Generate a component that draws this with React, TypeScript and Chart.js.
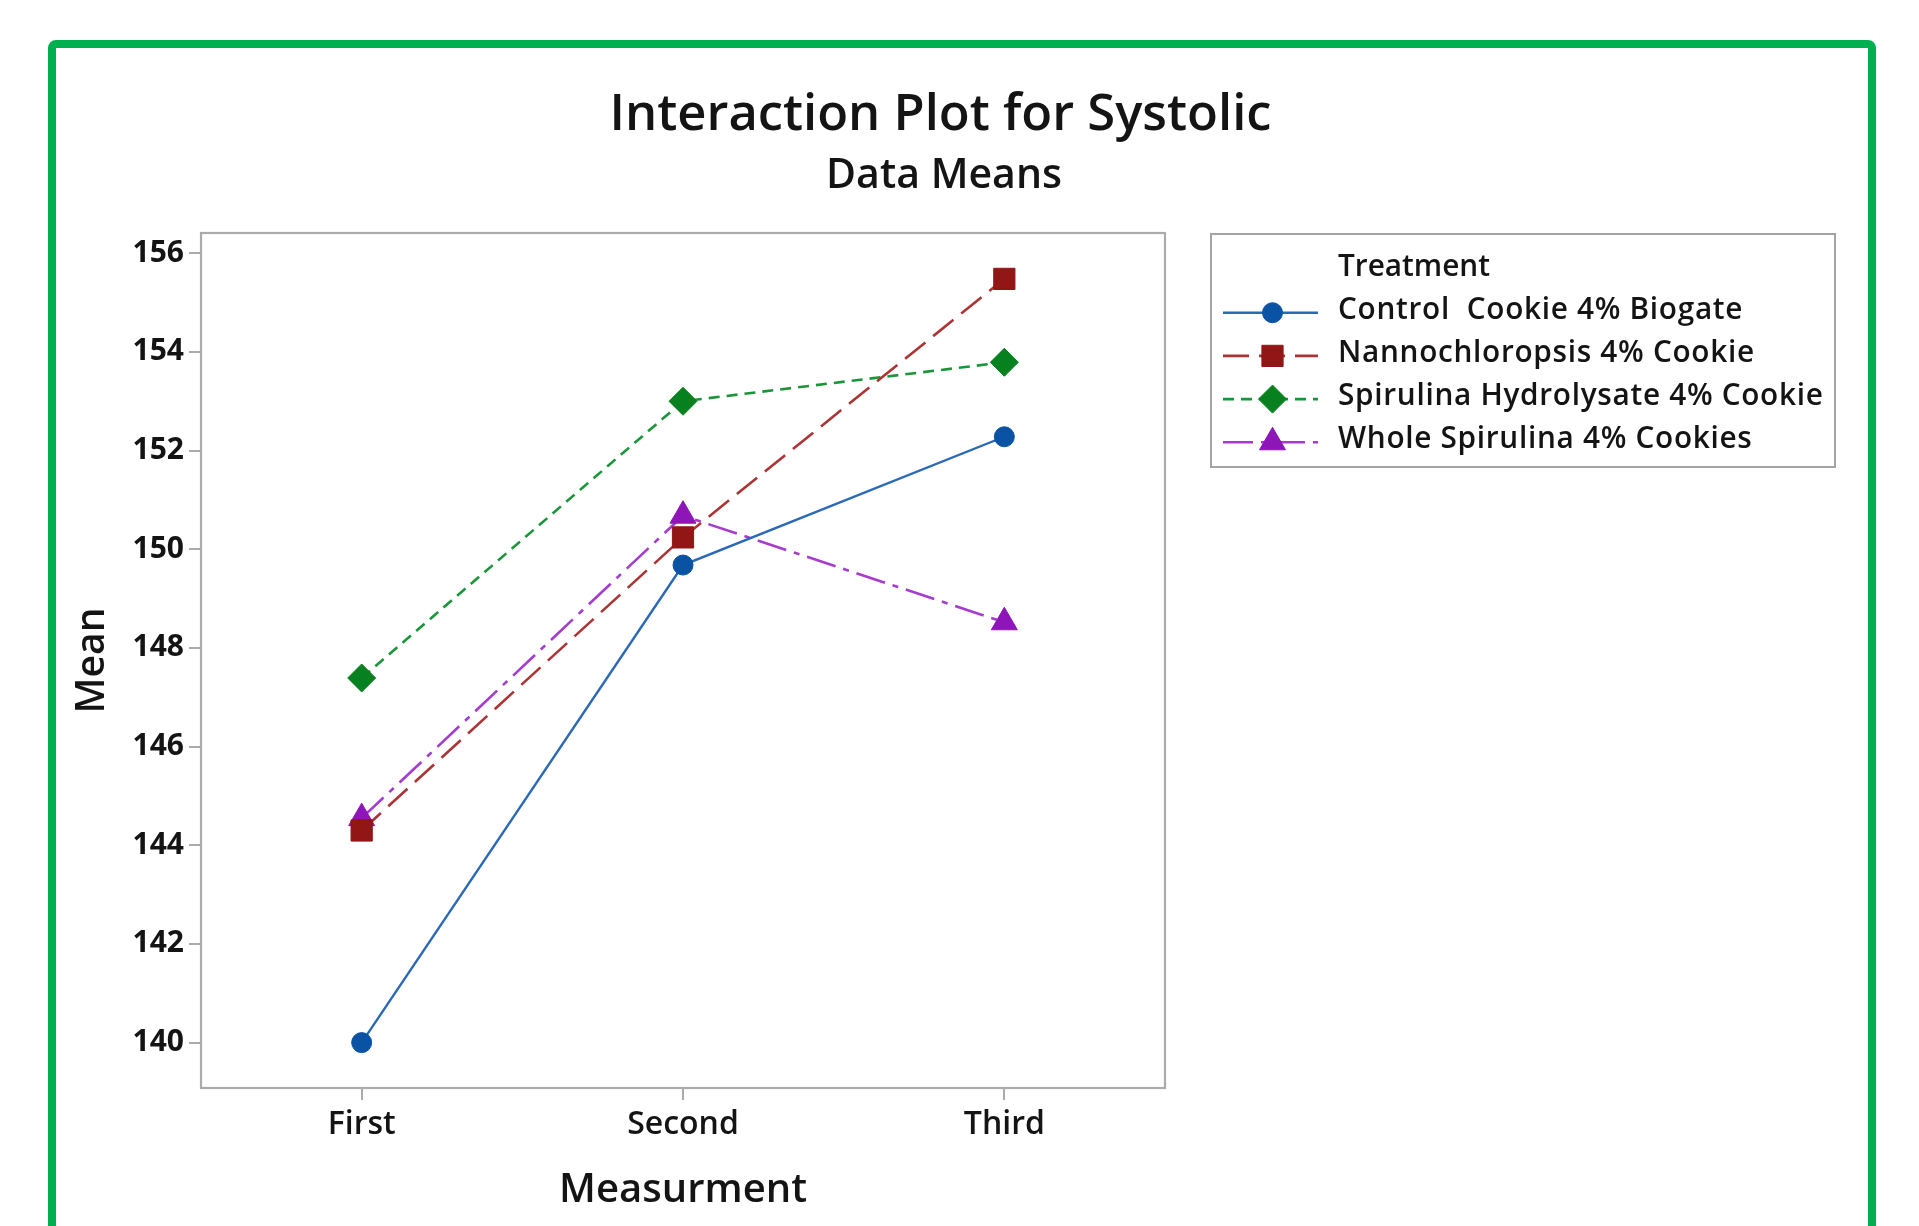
import { useEffect, useRef } from 'react';
import { Chart, registerables } from 'chart.js';
import { drawPoint } from 'chart.js/helpers';

Chart.register(...registerables);

const categories = ['First', 'Second', 'Third'];
const seriesNames = [
  'Control  Cookie 4% Biogate',
  'Nannochloropsis 4% Cookie',
  'Spirulina Hydrolysate 4% Cookie',
  'Whole Spirulina 4% Cookies',
];
const controlCookie = [140.0, 149.68, 152.28];
const nannochloropsis = [144.3, 150.24, 155.48];
const spirulinaHydrolysate = [147.39, 153.0, 153.79];
const wholeSpirulina = [144.55, 150.68, 148.52];
const yTickValues = [140, 142, 144, 146, 148, 150, 152, 154, 156];

const chartTitle = 'Interaction Plot for Systolic';
const chartSubtitle = 'Data Means';
const xAxisTitle = 'Measurment';
const yAxisTitle = 'Mean';
const legendTitle = 'Treatment';

const FONT = '"Open Sans", "Noto Sans", "DejaVu Sans", sans-serif';
const TEXT = '#141414';
const AXIS_GRAY = '#ababab';

function fitText(ctx: CanvasRenderingContext2D, text: string, weight: string, size: number, target: number) {
  ctx.font = `${weight} ${size}px ${FONT}`;
  const w = ctx.measureText(text).width;
  const s = size * (target / w);
  ctx.font = `${weight} ${s.toFixed(2)}px ${FONT}`;
}

const decorPlugin = {
  id: 'decor',
  beforeDraw(chart: any) {
    const ctx = chart.ctx as CanvasRenderingContext2D;
    ctx.save();
    ctx.fillStyle = '#ffffff';
    ctx.fillRect(0, 0, chart.width, chart.height);
    // green outer border (open at the bottom)
    const r = 4;
    ctx.strokeStyle = '#00B050';
    ctx.lineWidth = 8;
    ctx.beginPath();
    ctx.moveTo(52, chart.height + 20);
    ctx.lineTo(52, 44 + r);
    ctx.arcTo(52, 44, 52 + r, 44, r);
    ctx.lineTo(1872 - r, 44);
    ctx.arcTo(1872, 44, 1872, 44 + r, r);
    ctx.lineTo(1872, chart.height + 20);
    ctx.stroke();

    // titles
    ctx.fillStyle = TEXT;
    ctx.textAlign = 'center';
    ctx.textBaseline = 'alphabetic';
    fitText(ctx, chartTitle, '600', 53, 662);
    ctx.fillText(chartTitle, 940.5, 130);
    fitText(ctx, chartSubtitle, '600', 42, 236);
    ctx.fillText(chartSubtitle, 944, 188);

    // axis titles
    const area = chart.chartArea;
    fitText(ctx, xAxisTitle, '600', 42, 248);
    ctx.fillText(xAxisTitle, (area.left + area.right) / 2, 1201.5);
    ctx.save();
    ctx.translate(104, (area.top + area.bottom) / 2);
    ctx.rotate(-Math.PI / 2);
    fitText(ctx, yAxisTitle, '600', 42, 106);
    ctx.fillText(yAxisTitle, 0, 0);
    ctx.restore();

    // legend box
    ctx.strokeStyle = '#a4a4a4';
    ctx.lineWidth = 2;
    ctx.strokeRect(1211, 234, 624, 233);
    const tx = 1338;
    const base0 = 275.5;
    const step = 43.2;
    ctx.textAlign = 'left';
    ctx.fillStyle = TEXT;
    fitText(ctx, legendTitle, '600', 31, 152);
    ctx.fillText(legendTitle, tx, base0);
    const legendFont = ctx.font;
    chart.data.datasets.forEach((ds: any, i: number) => {
      const by = base0 + step * (i + 1);
      const cy = by - 6;
      ctx.save();
      ctx.strokeStyle = ds.borderColor;
      ctx.lineWidth = ds.borderWidth;
      ctx.setLineDash(ds.borderDash || []);
      ctx.beginPath();
      ctx.moveTo(1223, cy);
      ctx.lineTo(1318, cy);
      ctx.stroke();
      ctx.setLineDash([]);
      ctx.fillStyle = ds.pointBackgroundColor;
      ctx.strokeStyle = ds.pointBorderColor;
      ctx.lineWidth = 1;
      drawPoint(ctx, { pointStyle: ds.pointStyle, rotation: 0, radius: ds.pointRadius, borderWidth: 1 } as any, 1272.5, cy);
      ctx.restore();
      ctx.save();
      ctx.font = legendFont;
      (ctx as any).letterSpacing = '0.7px';
      ctx.fillStyle = TEXT;
      ctx.fillText(ds.label, tx, by);
      ctx.restore();
    });
    ctx.restore();
  },
  beforeDatasetsDraw(chart: any) {
    const ctx = chart.ctx as CanvasRenderingContext2D;
    const a = chart.chartArea;
    ctx.save();
    ctx.strokeStyle = AXIS_GRAY;
    ctx.lineWidth = 2.2;
    ctx.strokeRect(a.left, a.top, a.right - a.left, a.bottom - a.top);
    ctx.restore();
  },
};

export default function App() {
  const ref = useRef<HTMLCanvasElement | null>(null);
  useEffect(() => {
    if (!ref.current) return;
    const gridOpts = {
      display: true,
      drawOnChartArea: false,
      drawTicks: true,
      tickLength: 12,
      tickWidth: 2,
      lineWidth: 2,
      tickColor: AXIS_GRAY,
      color: AXIS_GRAY,
    };
    const chart = new Chart(ref.current, {
      type: 'line',
      data: {
        labels: categories,
        datasets: [
          {
            label: seriesNames[0],
            data: controlCookie,
            borderColor: '#2a68b8',
            borderWidth: 2.4,
            borderDash: [],
            pointStyle: 'circle',
            pointRadius: 10,
            pointBackgroundColor: '#0a52a3',
            pointBorderColor: '#0a52a3',
            pointBorderWidth: 1,
          },
          {
            label: seriesNames[1],
            data: nannochloropsis,
            borderColor: '#ad3434',
            borderWidth: 2.6,
            borderDash: [26, 10],
            pointStyle: 'rect',
            pointRadius: 15,
            pointBackgroundColor: '#921616',
            pointBorderColor: '#921616',
            pointBorderWidth: 1,
          },
          {
            label: seriesNames[2],
            data: spirulinaHydrolysate,
            borderColor: '#1a963a',
            borderWidth: 2.6,
            borderDash: [11, 7],
            pointStyle: 'rectRot',
            pointRadius: 14,
            pointBackgroundColor: '#07811f',
            pointBorderColor: '#07811f',
            pointBorderWidth: 1,
          },
          {
            label: seriesNames[3],
            data: wholeSpirulina,
            borderColor: '#a33ccf',
            borderWidth: 2.6,
            borderDash: [30, 8, 6, 8],
            pointStyle: 'triangle',
            pointRadius: 15,
            pointBackgroundColor: '#8e16b8',
            pointBorderColor: '#8e16b8',
            pointBorderWidth: 1,
          },
        ],
      },
      options: {
        responsive: false,
        animation: false,
        devicePixelRatio: 1,
        layout: { padding: { left: 0, top: 233, right: 754, bottom: 0 } },
        plugins: {
          legend: { display: false },
          title: { display: false },
          tooltip: { enabled: false },
        },
        elements: { line: { tension: 0, fill: false } },
        scales: {
          x: {
            type: 'category',
            offset: true,
            grid: { ...gridOpts, offset: false },
            border: { display: false },
            ticks: {
              color: TEXT,
              font: { family: FONT, size: 32, weight: '600' },
              padding: 6,
              maxRotation: 0,
              autoSkip: false,
            },
            afterFit: (s: any) => {
              s.height = 138;
            },
          },
          y: {
            type: 'linear',
            min: 139.08,
            max: 156.41,
            afterBuildTicks: (s: any) => {
              s.ticks = yTickValues.map((v) => ({ value: v }));
            },
            grid: gridOpts,
            border: { display: false },
            ticks: {
              color: TEXT,
              font: { family: FONT, size: 30, weight: '700' },
              padding: 5,
              callback: (v: any) => String(v),
            },
            afterFit: (s: any) => {
              s.width = 201;
            },
          },
        },
      },
      plugins: [decorPlugin],
    } as any);
    return () => chart.destroy();
  }, []);
  return (
    <div style={{ position: 'absolute', left: 0, top: 0, width: 1919, height: 1226, background: '#fff' }}>
      <canvas ref={ref} width={1919} height={1226} style={{ display: 'block' }} />
    </div>
  );
}
